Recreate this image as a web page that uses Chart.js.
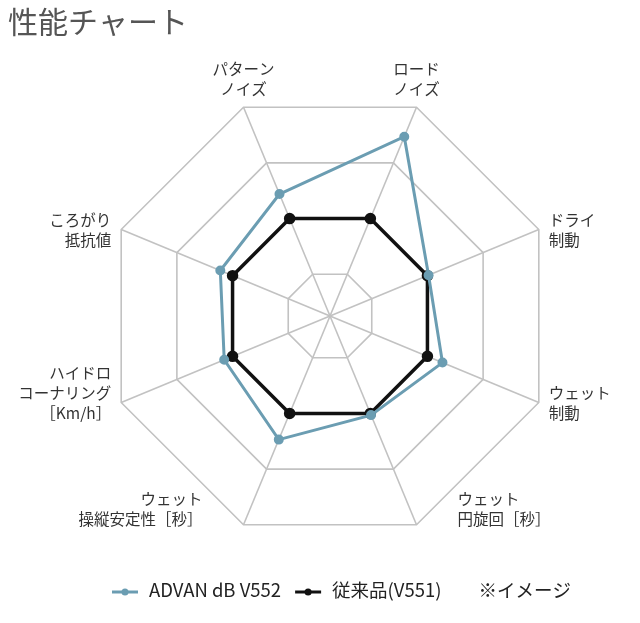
<!DOCTYPE html>
<html lang="ja">
<head>
<meta charset="utf-8">
<title>性能チャート</title>
<script src="https://cdn.jsdelivr.net/npm/chart.js@4.4.1/dist/chart.umd.min.js"></script>
<style>
  html, body { margin: 0; padding: 0; background: #fff; }
  #wrap { position: relative; width: 640px; height: 623px; }
</style>
</head>
<body>
<div id="wrap"><canvas id="performance-chart"></canvas></div>
<script>
const titleText = '性能チャート';
const noteText = '※イメージ';

// axes, clockwise from the top-left corner
const axisLabels = [
  ['パターン', 'ノイズ'],
  ['ロード', 'ノイズ'],
  ['ドライ', '制動'],
  ['ウェット', '制動'],
  ['ウェット', '円旋回［秒］'],
  ['ウェット', '操縦安定性［秒］'],
  ['ハイドロ', 'コーナリング', '［Km/h］'],
  ['ころがり', '抵抗値']
];

const seriesNames = ['ADVAN dB V552', '従来品(V551)'];
const advanValues = [2.44, 3.47, 2.02, 2.27, 2.03, 2.47, 2.15, 2.22];
const v551Values = [2, 2, 2, 2, 2, 2, 2, 2];

// rings of the octagon grid
const ringTicks = [1, 2, 3, 4];

const BLUE = '#6b9db2';
const BLACK = '#111111';
const GRID = '#c2c2c2';
const FONT = '"Noto Sans CJK JP", "Noto Sans", sans-serif';

// axis labels, title and legend are drawn on the canvas after the chart
const decorPlugin = {
  id: 'decor',
  afterDraw(chart) {
    const scale = chart.scales.r;
    const c = chart.ctx;
    c.save();

    // axis labels
    c.font = '15.5px ' + FONT;
    c.fillStyle = '#333';
    c.textBaseline = 'middle';
    const lineH = 20;
    chart.data.labels.forEach((lines, i) => {
      const p = scale.getPointPosition(i, scale.drawingArea);
      const a = scale.getIndexAngle(i);
      const sx = Math.sin(a);
      const cy = Math.cos(a);
      let x = p.x;
      let bottom;
      if (cy > 0.8) {
        c.textAlign = 'center';
        bottom = p.y - 8;
      } else if (cy < -0.8) {
        c.textAlign = sx > 0 ? 'left' : 'right';
        x = p.x + (sx > 0 ? 41 : -41);
        bottom = p.y + 4;
      } else {
        c.textAlign = sx > 0 ? 'left' : 'right';
        x = p.x + (sx > 0 ? 10 : -10);
        bottom = p.y + 21;
      }
      const top = bottom - lines.length * lineH;
      lines.forEach((t, k) => c.fillText(t, x, top + lineH * (k + 0.5)));
    });

    // title
    c.font = '30px ' + FONT;
    c.fillStyle = '#555';
    c.textAlign = 'left';
    c.fillText(titleText, 8, 22);

    // legend
    c.font = '18.5px ' + FONT;
    const ly = 590;
    let x = 112;
    chart.data.datasets.forEach(ds => {
      c.strokeStyle = ds.borderColor;
      c.fillStyle = ds.borderColor;
      c.lineWidth = 3;
      c.beginPath();
      c.moveTo(x, ly + 2);
      c.lineTo(x + 26, ly + 2);
      c.stroke();
      c.beginPath();
      c.arc(x + 13, ly + 2, 3.5, 0, Math.PI * 2);
      c.fill();
      c.fillStyle = '#222';
      c.fillText(ds.label, x + 37, ly);
      x += 37 + c.measureText(ds.label).width + 14;
    });
    c.fillText(noteText, x + 23, ly);

    c.restore();
  }
};

const ctx = document.getElementById('performance-chart');
new Chart(ctx, {
  type: 'radar',
  data: {
    labels: axisLabels,
    datasets: [
      {
        label: seriesNames[0],
        data: advanValues,
        borderColor: BLUE,
        backgroundColor: BLUE,
        pointBackgroundColor: BLUE,
        pointBorderColor: BLUE,
        borderWidth: 3,
        pointRadius: 3.5,
        fill: false
      },
      {
        label: seriesNames[1],
        data: v551Values,
        borderColor: BLACK,
        backgroundColor: BLACK,
        pointBackgroundColor: BLACK,
        pointBorderColor: BLACK,
        borderWidth: 3.5,
        pointRadius: 4,
        fill: false
      }
    ]
  },
  options: {
    responsive: true,
    maintainAspectRatio: false,
    animation: false,
    layout: {
      padding: { left: 104, right: 84, top: 90, bottom: 80 }
    },
    elements: {
      line: { tension: 0 }
    },
    plugins: {
      legend: { display: false },
      tooltip: { enabled: false }
    },
    scales: {
      r: {
        startAngle: -22.5,
        min: 0.25,
        max: 4,
        afterBuildTicks: (axis) => {
          axis.ticks = [0.25, ...ringTicks].map(v => ({ value: v }));
        },
        ticks: { display: false },
        grid: { color: GRID, lineWidth: 1.6 },
        angleLines: { color: GRID, lineWidth: 1.6 },
        pointLabels: { display: false }
      }
    }
  },
  plugins: [decorPlugin]
});
</script>
</body>
</html>
